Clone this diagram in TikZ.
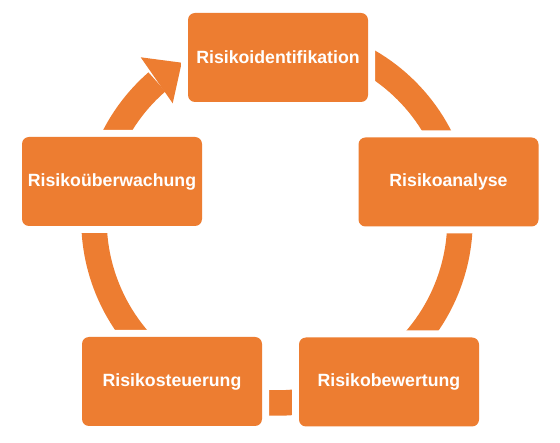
\documentclass[tikz,border=0pt]{standalone}
\usepackage{fontspec}
\setmainfont{Liberation Sans}
\definecolor{orng}{HTML}{ED7D31}
\begin{document}
\begin{tikzpicture}[x=1pt,y=1pt,
  ring/.style={draw=orng, line width=25.5pt},
  stage/.style={fill=orng, rounded corners=7pt, minimum width=180pt, minimum height=89pt,
    inner sep=0pt, text=white, font=\fontsize{17.7}{20}\selectfont\bfseries,
    preaction={draw=white, line width=14pt}}]
\useasboundingbox (0,0) rectangle (560,-443);
\fill[white] (0,0) rectangle (560,-443);
\coordinate (C) at (277,-220);
% ring pieces
\draw[ring] ([shift={(75:183pt)}]C) arc[start angle=75, end angle=15, radius=183pt];
\draw[ring] ([shift={(0:183pt)}]C) arc[start angle=0, end angle=-60, radius=183pt];
\draw[ring] ([shift={(-70:183pt)}]C) arc[start angle=-70, end angle=-110, radius=183pt];
\draw[ring] ([shift={(-120:183pt)}]C) arc[start angle=-120, end angle=-180, radius=183pt];
\draw[ring] ([shift={(180:183pt)}]C) arc[start angle=180, end angle=131, radius=183pt];
% arrow head
\coordinate (b1) at (140.7,-57.3);
\coordinate (tip) at (181.7,-62.7);
\coordinate (b2) at (172.7,-103.3);
\fill[orng] (b1) -- (tip) -- (b2) -- cycle;
% stages
\node[stage] (ident) at (278,-57.5) {Risikoidentifikation};
\node[stage] (analyse) at (448.5,-182) {Risikoanalyse};
\node[stage] (bewert) at (389,-382) {Risikobewertung};
\node[stage] (steuer) at (172,-381.5) {Risikosteuerung};
\node[stage] (ueberw) at (112,-181.5) {Risikoüberwachung};
\end{tikzpicture}
\end{document}
